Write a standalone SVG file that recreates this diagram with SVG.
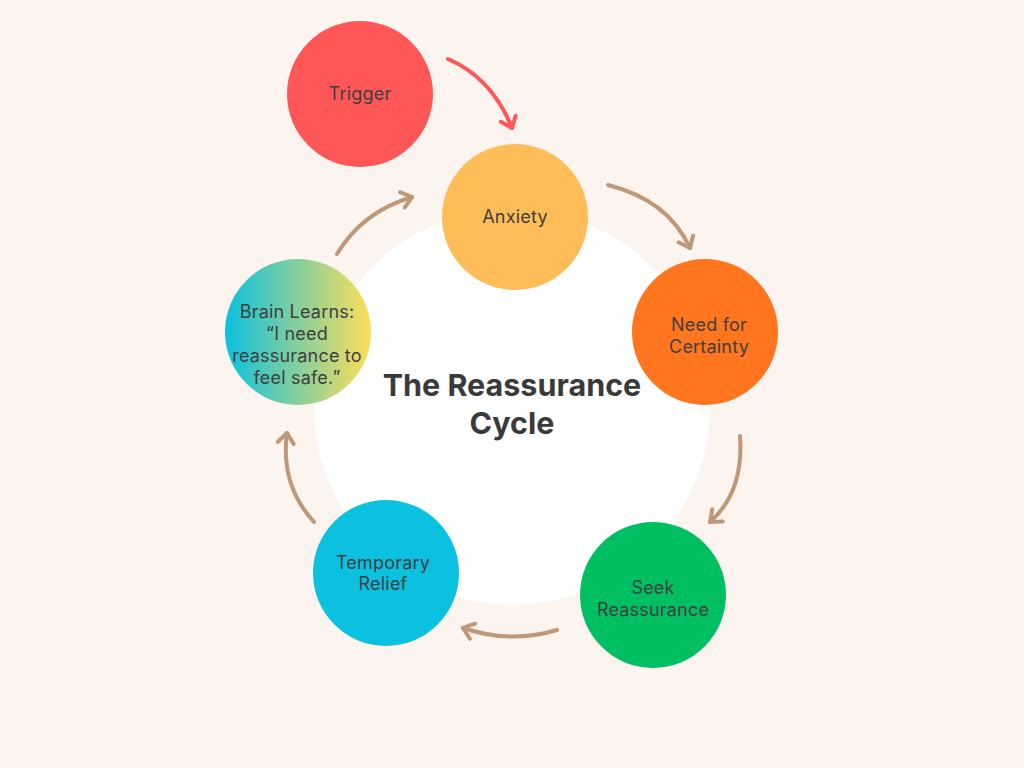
<svg xmlns="http://www.w3.org/2000/svg" width="1024" height="768" viewBox="0 0 1024 768">
<defs>
<style>
.lbl{font-family:Inter,"Open Sans","Liberation Sans",sans-serif;font-size:18px;letter-spacing:0.2px;fill:#3f3f3f;text-anchor:middle}
.title{font-family:Inter,"Open Sans","Liberation Sans",sans-serif;font-size:30.5px;font-weight:700;fill:#3a3a3a;text-anchor:middle}
.conn{fill:none;stroke:#BF9878;stroke-width:4;stroke-linecap:round}
.conn.red{stroke:#FF5757}
</style>
<linearGradient id="g" x1="0" y1="0" x2="1" y2="0">
<stop offset="0" stop-color="#0CC0DF"/>
<stop offset="1" stop-color="#FFDE59"/>
</linearGradient>
<marker id="ah" viewBox="-12 -10 16 20" markerWidth="16" markerHeight="20" refX="0" refY="0" orient="auto" markerUnits="userSpaceOnUse">
<path d="M-10,-8 L0,0 L-10,8" fill="none" stroke="#BF9878" stroke-width="4" stroke-linecap="round" stroke-linejoin="round"/>
</marker>
<marker id="ahr" viewBox="-12 -10 16 20" markerWidth="16" markerHeight="20" refX="0" refY="0" orient="auto" markerUnits="userSpaceOnUse">
<path d="M-10,-8 L0,0 L-10,8" fill="none" stroke="#FF5757" stroke-width="4" stroke-linecap="round" stroke-linejoin="round"/>
</marker>
</defs>
<rect width="1024" height="768" fill="#FCF4EF"/>
<circle cx="512" cy="407" r="198" fill="#FFFFFF"/>
<g id="connectors">
<path class="conn red" d="M448,59 Q492,78 512,128" marker-end="url(#ahr)"/>
<path class="conn" d="M608,185 Q668,200 690,248" marker-end="url(#ah)"/>
<path class="conn" d="M740,436 Q744,492 710,522" marker-end="url(#ah)"/>
<path class="conn" d="M557,630 Q510,644 463,628" marker-end="url(#ah)"/>
<path class="conn" d="M314,522 Q280,485 287,433" marker-end="url(#ah)"/>
<path class="conn" d="M337,254 Q362,212 412,197" marker-end="url(#ah)"/>
</g>
<g id="trigger">
<circle cx="360" cy="94" r="73" fill="#FF5757"/>
<text class="lbl" x="360" y="100">Trigger</text>
</g>
<g id="anxiety">
<circle cx="515" cy="217" r="73" fill="#FFBD59"/>
<text class="lbl" x="515" y="223">Anxiety</text>
</g>
<g id="need">
<circle cx="705" cy="332" r="73" fill="#FF761F"/>
<text class="lbl" x="709" y="331">Need for</text>
<text class="lbl" x="709" y="353">Certainty</text>
</g>
<g id="seek">
<circle cx="653" cy="595" r="73" fill="#00BF63"/>
<text class="lbl" x="653" y="594">Seek</text>
<text class="lbl" x="653" y="616">Reassurance</text>
</g>
<g id="relief">
<circle cx="386" cy="573" r="73" fill="#0CC0DF"/>
<text class="lbl" x="383" y="569">Temporary</text>
<text class="lbl" x="383" y="590">Relief</text>
</g>
<g id="brain">
<circle cx="298" cy="332" r="73" fill="url(#g)"/>
<text class="lbl" x="297" y="318">Brain Learns:</text>
<text class="lbl" x="297" y="340">“I need</text>
<text class="lbl" x="297" y="362">reassurance to</text>
<text class="lbl" x="297" y="384">feel safe.”</text>
</g>
<g id="title">
<text class="title" x="512" y="396">The Reassurance</text>
<text class="title" x="512" y="434">Cycle</text>
</g>
</svg>
